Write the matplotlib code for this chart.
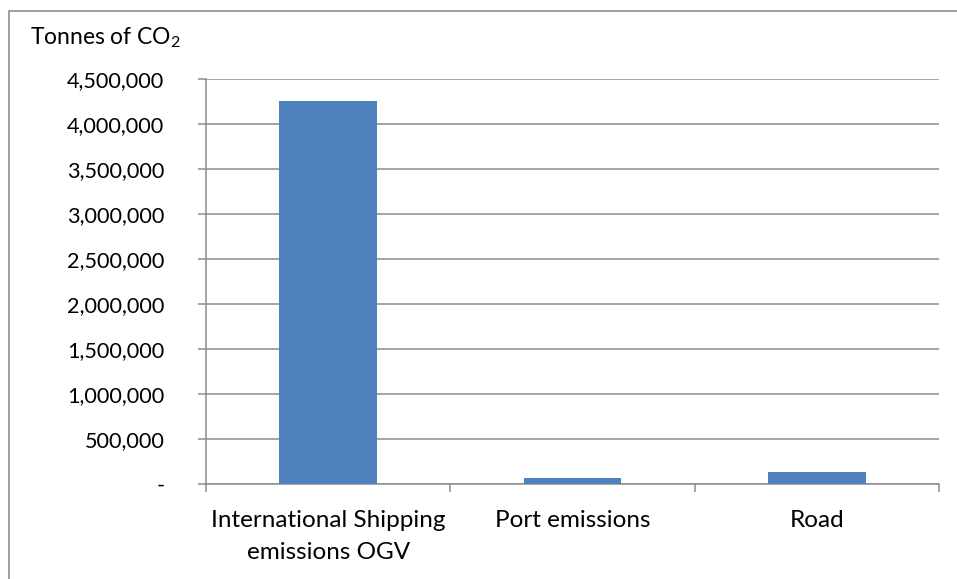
import matplotlib.pyplot as plt
import matplotlib.patches as mpatches
from matplotlib.ticker import FuncFormatter, FixedLocator

categories = ["International Shipping\nemissions OGV", "Port emissions", "Road"]
values = [4260000, 70000, 137000]
y_ticks = list(range(0, 4500001, 500000))

plt.rcParams['font.family'] = ['Lato', 'DejaVu Sans']
plt.rcParams['mathtext.fontset'] = 'custom'
plt.rcParams['mathtext.rm'] = 'Lato'
plt.rcParams['mathtext.it'] = 'Lato'

fig = plt.figure(figsize=(9.57, 5.79), dpi=100)
ax = fig.add_axes([206 / 957, 1 - 484 / 579, (939 - 206) / 957, (484 - 79) / 579])

x = list(range(len(categories)))
ax.bar(x, values, width=0.4, color="#4F81BD", zorder=3)

ax.set_xlim(-0.5, 2.5)
ax.set_ylim(0, 4500000)
ax.set_yticks(y_ticks)
ax.yaxis.set_major_formatter(FuncFormatter(lambda v, p: "-" if v == 0 else f"{int(v):,}"))
ax.grid(axis="y", color="#8c8c8c", linewidth=1.1, zorder=0)

ax.xaxis.set_major_locator(FixedLocator([-0.5, 0.5, 1.5, 2.5]))
ax.set_xticklabels([], minor=False)
ax.set_xticks(x, minor=True)
ax.set_xticklabels(categories, minor=True, fontsize=17.5, linespacing=1.6)
ax.tick_params(axis="x", which="minor", length=0, pad=19)
ax.tick_params(axis="x", which="major", length=6, color="#8c8c8c", width=1.1)
ax.tick_params(axis="y", length=6, color="#8c8c8c", width=1.1, labelsize=15.6, pad=24)

for s in ["top", "right"]:
    ax.spines[s].set_visible(False)
for s in ["left", "bottom"]:
    ax.spines[s].set_color("#8c8c8c")
    ax.spines[s].set_linewidth(1.1)

fig.text(30 / 957, 1 - 44 / 579, "Tonnes of CO$_2$", fontsize=16.5, va="baseline", ha="left")

border = mpatches.Rectangle((8.5 / 957, -0.1), 1.2, 1.1 - 10.5 / 579, transform=fig.transFigure,
                            fill=False, edgecolor="#8c8c8c", linewidth=1.2)
fig.patches.append(border)

fig.savefig("out.png", dpi=100)
